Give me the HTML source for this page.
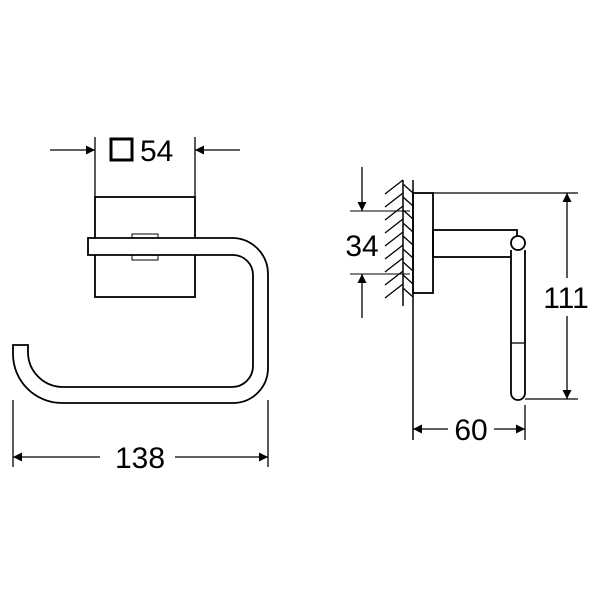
<!DOCTYPE html>
<html><head><style>html,body{margin:0;padding:0;background:#fff}svg{display:block}</style></head><body>
<svg width="600" height="600" viewBox="0 0 600 600" xmlns="http://www.w3.org/2000/svg" font-family="Liberation Sans, sans-serif">
<defs>
<marker id="a" viewBox="0 0 10 10" refX="10" refY="5" markerWidth="17" markerHeight="9" markerUnits="userSpaceOnUse" orient="auto"><path d="M0,0 L10,5 L0,10 z" fill="#000"/></marker>
</defs>
<g stroke="#000" fill="none" stroke-width="1.3">
<line x1="95" y1="137" x2="95" y2="197"/>
<line x1="195" y1="137" x2="195" y2="197"/>
<line x1="50" y1="150" x2="95" y2="150" marker-end="url(#a)"/>
<line x1="240" y1="150" x2="195" y2="150" marker-end="url(#a)"/>
<rect x="111" y="139" width="21" height="21" stroke-width="3"/>
<rect x="95" y="197" width="100" height="100" stroke-width="1.8"/>
<rect x="132" y="234" width="26" height="26" stroke-width="1"/>
<path d="M88,238 L232,238 A36,36 0 0 1 268,274 L268,368 A35,35 0 0 1 233,403 L62,403 A49,49 0 0 1 13,354 L13,345 L28,345 L28,352 A35,35 0 0 0 63,387 L232,387 A21,21 0 0 0 253,366 L253,275 A20,20 0 0 0 233,255 L88,255 Z" fill="#fff" stroke-width="1.8"/>
<path d="M132,238 L132,234 L158,234 L158,238 M132,255 L132,260 L158,260 L158,255" stroke-width="1"/>
<line x1="13" y1="400" x2="13" y2="467"/>
<line x1="268" y1="400" x2="268" y2="467"/>
<line x1="100" y1="457" x2="13" y2="457" marker-end="url(#a)"/>
<line x1="175" y1="457" x2="268" y2="457" marker-end="url(#a)"/>
<line x1="403" y1="180" x2="403" y2="306" stroke-width="1.5"/>
<line x1="413" y1="180" x2="413" y2="440" stroke-width="1.5"/>
<g stroke-width="1.3">
<path d="M385,194 L403,180 M385,207 L403,193 M385,220 L403,206 M385,233 L403,219 M385,246 L403,232 M385,259 L403,245 M385,272 L403,258 M385,285 L403,271 M385,298 L403,284"/>
<path d="M403,184 L413,193 M403,197 L413,206 M403,210 L413,219 M403,223 L413,232 M403,236 L413,245 M403,249 L413,258 M403,262 L413,271 M403,275 L413,284 M403,288 L413,297"/>
</g>
<rect x="413" y="193" width="20" height="100" stroke-width="1.8"/>
<rect x="433" y="230" width="84" height="27" stroke-width="1.8"/>
<path d="M511,250 L511,393 A7,7 0 0 0 525,393 L525,250" fill="#fff" stroke-width="1.8"/>
<line x1="511" y1="343" x2="525" y2="343"/>
<circle cx="518" cy="243" r="7" fill="#fff" stroke-width="1.8"/>
<line x1="350" y1="211" x2="410" y2="211" stroke-width="1"/>
<line x1="350" y1="274" x2="410" y2="274" stroke-width="1"/>
<line x1="362" y1="167" x2="362" y2="211" marker-end="url(#a)"/>
<line x1="362" y1="318" x2="362" y2="274" marker-end="url(#a)"/>
<line x1="433" y1="193" x2="578" y2="193"/>
<line x1="525" y1="399" x2="578" y2="399"/>
<line x1="567" y1="278" x2="567" y2="193" marker-end="url(#a)"/>
<line x1="567" y1="316" x2="567" y2="399" marker-end="url(#a)"/>
<line x1="525" y1="405" x2="525" y2="440"/>
<line x1="448" y1="429" x2="413" y2="429" marker-end="url(#a)"/>
<line x1="494" y1="429" x2="525" y2="429" marker-end="url(#a)"/>
</g>
<g fill="#000" font-size="30">
<text x="140" y="161">54</text>
<text x="140" y="468" text-anchor="middle">138</text>
<text x="362" y="256" text-anchor="middle">34</text>
<text x="566" y="308" text-anchor="middle">111</text>
<text x="471" y="440" text-anchor="middle">60</text>
</g>
</svg>
</body></html>
